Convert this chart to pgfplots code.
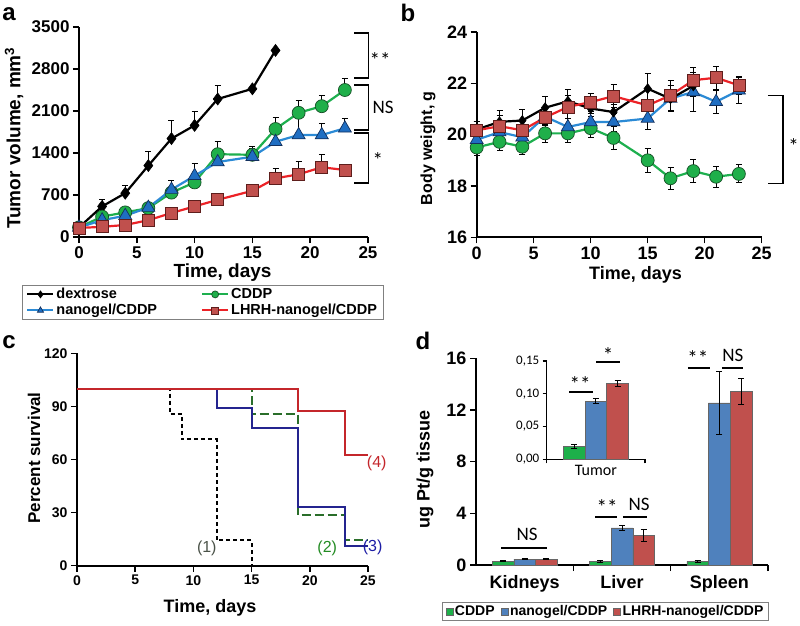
\documentclass[border=0pt]{standalone}
\usepackage{fontspec}
\setmainfont{Liberation Sans}
\newfontfamily\calib{Carlito}
\usepackage{pgfplots}
\pgfplotsset{compat=1.18}
\newcommand{\fs}[1]{\fontsize{#1}{#1}\selectfont}
\definecolor{gline}{HTML}{1DAF4E}
\definecolor{gfill}{HTML}{1FAF4A}
\definecolor{gedge}{HTML}{164F26}
\definecolor{bline}{HTML}{2B8AD5}
\definecolor{bfill}{HTML}{1F6EC2}
\definecolor{bedge}{HTML}{12305E}
\definecolor{rline}{HTML}{EC2227}
\definecolor{rfill}{HTML}{C0504D}
\definecolor{redge}{HTML}{5E1E1C}
\definecolor{cred}{HTML}{C4262B}
\definecolor{cblue}{HTML}{24248F}
\definecolor{cgreen}{HTML}{2A6E2A}
\definecolor{cgray}{HTML}{4A5248}
\definecolor{barg}{HTML}{1DB04A}
\definecolor{barb}{HTML}{4F81BD}
\definecolor{barr}{HTML}{C0504D}
\pgfplotsset{
  panel/.style={
    scale only axis, clip=false, anchor=south west,
    axis x line*=bottom, axis y line*=left,
    axis line style={line width=1.8pt,-},
    tick align=outside, major tick length=6pt,
    tick style={line width=1.5pt, black},
    /pgf/number format/assume math mode=true,
    /pgf/number format/1000 sep={},
    tick label style={font=\bfseries\fs{17}},
    label style={font=\bfseries\fs{18}},
  },
  ebar/.style={error bars/y dir=#1, error bars/y explicit,
     error bars/error bar style={line width=0.9pt, black},
     error bars/error mark options={rotate=90, mark size=3pt, line width=0.9pt, black}},
  dex/.style={black, line width=2.2pt, mark=diamond*, mark size=6pt, mark options={fill=black, draw=black, line width=0.6pt}},
  cddp/.style={gline, line width=2.2pt, mark=*, mark size=6.5pt, mark options={fill=gfill, draw=gedge, line width=0.7pt}},
  nano/.style={bline, line width=2.2pt, mark=triangle*, mark size=7.5pt, mark options={fill=bfill, draw=bedge, line width=0.7pt}},
  lhrh/.style={rline, line width=2.2pt, mark=square*, mark size=6pt, mark options={fill=rfill, draw=redge, line width=0.7pt}},
}
\begin{document}
\begin{tikzpicture}[x=1pt,y=1pt]
\useasboundingbox (0,0) rectangle (800,625);
% ---------------- panel a
\begin{axis}[panel, at={(79pt,388pt)}, width=289pt, height=210pt,
  xmin=0, xmax=25, ymin=0, ymax=3500, xtick={0,5,...,25}, ytick={0,700,...,3500},
  xlabel={Time, days}, ylabel={Tumor volume, mm\textsuperscript{3}},
  every axis x label/.style={at={(axis description cs:0.497,-0.171)}, anchor=center},
  every axis y label/.style={at={(axis description cs:-0.225,0.471)}, rotate=90, anchor=center},
  label style={font=\bfseries\fs{19}},
  legend columns=2, legend cell align=left,
  legend style={at={(axis description cs:-0.197,-0.2286)}, anchor=north west, draw=gray, line width=0.8pt,
     font=\bfseries\fs{14.5}, inner ysep=1pt, inner xsep=4pt, /tikz/every even column/.append style={column sep=42pt}},
  legend image code/.code={\draw[mark repeat=2,mark phase=2,#1] plot coordinates {(0pt,0pt) (13pt,0pt) (26pt,0pt)};},
  legend image post style={mark size=3.5pt, line width=2pt},
]
\addplot[dex, ebar=plus] table[x=x,y=y,y error=e]{
x y e
0 160 0
2 510 120
4 730 130
6 1190 230
8 1640 300
10 1860 240
12 2300 220
15 2470 0
17 3110 0
};
\addplot[cddp, ebar=plus] table[x=x,y=y,y error=e]{
x y e
0 160 0
2 340 0
4 410 0
6 482 0
8 740 0
10 910 0
12 1380 220
15 1370 100
17 1800 195
19 2070 210
21 2180 180
23 2450 190
};
\addplot[nano, ebar=plus] table[x=x,y=y,y error=e]{
x y e
0 160 0
2 280 0
4 355 0
6 490 0
8 790 150
10 1020 200
12 1250 100
15 1338 167
17 1588 0
19 1700 380
21 1700 195
23 1812 165
};
\addplot[lhrh, ebar=plus] table[x=x,y=y,y error=e]{
x y e
0 150 0
2 170 0
4 200 0
6 280 0
8 400 0
10 510 0
12 620 0
15 770 0
17 978 167
19 1045 210
21 1162 215
23 1117 0
};
\legend{dextrose, CDDP, nanogel/CDDP, LHRH-nanogel/CDDP}
\draw[line width=1.2pt] (axis cs:23.8,3400) -- (axis cs:25.05,3400) -- (axis cs:25.05,2650) -- (axis cs:23.8,2650);
\draw[line width=1.2pt] (axis cs:23.8,2533) -- (axis cs:25.05,2533) -- (axis cs:25.05,1783) -- (axis cs:23.8,1783);
\draw[line width=1.2pt] (axis cs:23.8,1733) -- (axis cs:25.05,1733) -- (axis cs:25.05,900) -- (axis cs:23.8,900);
\node[font=\calib\fs{21}] at (axis cs:26.05,2950) {**};
\node[font=\calib\fs{19}] at (axis cs:26.3,2167) {NS};
\node[font=\calib\fs{21}] at (axis cs:25.85,1280) {*};
\end{axis}
% ---------------- panel b
\begin{axis}[panel, at={(476.7pt,387.7pt)}, width=285pt, height=205.3pt,
  xmin=0, xmax=25, ymin=16, ymax=24, xtick={0,5,...,25}, ytick={16,18,...,24},
  tick label style={font=\bfseries\fs{18}},
  xlabel={Time, days}, ylabel={Body weight, g},
  every axis x label/.style={at={(axis description cs:0.557,-0.185)}, anchor=center},
  every axis y label/.style={at={(axis description cs:-0.171,0.434)}, rotate=90, anchor=center},
  label style={font=\bfseries\fs{16}},
  xlabel style={font=\bfseries\fs{18}},
]
\addplot[cddp, ebar=both] table[x=x,y=y,y error=e]{
x y e
0 19.5 0.3
2 19.72 0.35
4 19.53 0.3
6 20.05 0.35
8 20.05 0.35
10 20.25 0.35
12 19.87 0.45
15 19.0 0.47
17 18.3 0.43
19 18.58 0.45
21 18.36 0.4
23 18.47 0.35
};
\addplot[nano, ebar=both] table[x=x,y=y,y error=e]{
x y e
0 19.8 0.3
2 20.1 0.3
4 19.9 0.3
6 20.7 0.35
8 20.3 0.35
10 20.49 0.35
12 20.49 0.35
15 20.63 0.43
17 21.41 0.5
19 21.66 0.75
21 21.28 0.45
23 21.73 0.5
};
\addplot[dex, ebar=both, mark size=5pt] table[x=x,y=y,y error=e]{
x y e
0 20.2 0.3
2 20.5 0.45
4 20.55 0.45
6 21.05 0.45
8 21.3 0.45
10 21.02 0.3
12 20.88 0.3
15 21.79 0.6
17 21.4 0.5
19 21.9 0.4
};
\addplot[lhrh, ebar=both] table[x=x,y=y,y error=e]{
x y e
0 20.17 0.35
2 20.33 0.4
4 20.17 0.35
6 20.67 0.4
8 21.08 0.45
10 21.27 0.35
12 21.5 0.45
15 21.14 0.6
17 21.53 0.6
19 22.12 0.5
21 22.22 0.45
23 21.92 0.35
};
\draw[line width=1.2pt] (axis cs:25.55,21.53) -- (axis cs:26.87,21.53) -- (axis cs:26.87,18.1) -- (axis cs:25.55,18.1);
\node[font=\calib\fs{21}] at (axis cs:27.8,19.55) {*};
\end{axis}
% ---------------- panel c
\begin{axis}[panel, at={(77pt,59.3pt)}, width=291pt, height=212.4pt,
  xmin=0, xmax=25, ymin=0, ymax=120, xtick={0,5,...,25}, ytick={0,30,...,120},
  tick label style={font=\bfseries\fs{14}},
  xlabel={Time, days}, ylabel={Percent survival},
  every axis x label/.style={at={(axis description cs:0.457,-0.199)}, anchor=center},
  every axis y label/.style={at={(axis description cs:-0.148,0.507)}, rotate=90, anchor=center},
  label style={font=\bfseries\fs{17}},
  xlabel style={font=\bfseries\fs{18}},
]
\addplot[const plot, black, line width=1.8pt, dash pattern=on 4pt off 3pt] coordinates {(0,100) (8,85.7) (9,71.4) (12,14.3) (15,0)};
\addplot[const plot, cgreen, line width=2pt, dash pattern=on 9pt off 4pt] coordinates {(0,100) (15,85.7) (19,28.6) (23,14.3) (25,14.3)};
\addplot[const plot, cblue, line width=2pt] coordinates {(0,100) (12,88.9) (15,77.8) (19,33.3) (23,11.1) (25,11.1)};
\addplot[const plot, cred, line width=2.2pt] coordinates {(0,100) (19,87.5) (23,62.5) (25,62.5)};
\node[font=\fs{16}, text=cgray] at (axis cs:11.15,10) {(1)};
\node[font=\fs{16}, text=cgreen!80!green] at (axis cs:21.5,10) {(2)};
\node[font=\fs{16}, text=cblue!80!blue] at (axis cs:25.4,10.5) {(3)};
\node[font=\fs{16}, text=cred] at (axis cs:25.75,58) {(4)};
\end{axis}
% ---------------- panel d
\begin{axis}[panel, at={(476pt,60pt)}, width=292pt, height=206.7pt,
  xmin=0, xmax=3, ymin=0, ymax=16, ytick={0,4,...,16},
  xtick={1,2,3}, xticklabels={},
  extra x ticks={0.5,1.5,2.5}, extra x tick labels={Kidneys,Liver,Spleen},
  extra x tick style={major tick length=0pt, tick label style={font=\bfseries\fs{18}, yshift=-7pt}},
  tick label style={font=\bfseries\fs{18}},
  ybar=0pt, bar width=21.7pt,
  ylabel={ug Pt/g tissue},
  every axis y label/.style={at={(axis description cs:-0.175,0.46)}, rotate=90, anchor=center},
  label style={font=\bfseries\fs{18}},
  legend columns=3,
  legend style={at={(axis description cs:-0.116,-0.179)}, anchor=north west, draw=gray, line width=0.8pt,
     font=\bfseries\fs{14}, inner ysep=1pt, /tikz/every even column/.append style={column sep=4pt}},
  legend image code/.code={\draw[#1,/tikz/.cd,line width=0.4pt] (0pt,-3.5pt) rectangle (7pt,3.5pt);},
]
\addplot[fill=barg, draw=black!60, line width=0.5pt, ebar=both] table[x=x,y=y,y error=e]{
x y e
0.5 0.3 0.05
1.5 0.28 0.05
2.5 0.28 0.05
};
\addplot[fill=barb, draw=black!60, line width=0.5pt, ebar=both] table[x=x,y=y,y error=e]{
x y e
0.5 0.45 0.05
1.5 2.87 0.16
2.5 12.55 2.45
};
\addplot[fill=barr, draw=black!60, line width=0.5pt, ebar=both] table[x=x,y=y,y error=e]{
x y e
0.5 0.45 0.05
1.5 2.3 0.45
2.5 13.45 1.0
};
\legend{CDDP, nanogel/CDDP, LHRH-nanogel/CDDP}
\draw[line width=1.2pt] (axis cs:0.257,1.32) -- (axis cs:0.729,1.32);
\node[font=\calib\fs{19}] at (axis cs:0.524,2.4) {NS};
\draw[line width=1.2pt] (axis cs:1.223,3.72) -- (axis cs:1.449,3.72);
\node[font=\calib\fs{21}] at (axis cs:1.346,4.45) {**};
\draw[line width=1.2pt] (axis cs:1.51,3.72) -- (axis cs:1.757,3.72);
\node[font=\calib\fs{19}] at (axis cs:1.675,4.7) {NS};
\draw[line width=1.2pt] (axis cs:2.178,15.25) -- (axis cs:2.404,15.25);
\node[font=\calib\fs{21}] at (axis cs:2.28,16.0) {**};
\draw[line width=1.2pt] (axis cs:2.527,15.25) -- (axis cs:2.743,15.25);
\node[font=\calib\fs{19}] at (axis cs:2.64,16.25) {NS};
\end{axis}
% ---------------- inset
\begin{axis}[panel, at={(546.7pt,165.7pt)}, width=98.3pt, height=98.3pt,
  axis line style={line width=1.3pt,-}, major tick length=4pt, tick style={line width=1.1pt, black},
  xmin=0, xmax=1, ymin=0, ymax=0.15, ytick={0,0.05,0.1,0.15}, scaled y ticks=false,
  yticklabel style={font=\calib\fs{13}, /pgf/number format/fixed, /pgf/number format/fixed zerofill,
     /pgf/number format/precision=2, /pgf/number format/use comma},
  xtick={0,1}, xticklabels={},
  extra x ticks={0.5}, extra x tick labels={Tumor},
  extra x tick style={major tick length=0pt, tick label style={font=\calib\fs{16}, yshift=-2pt}},
  ybar=0pt, bar width=21.7pt,
]
\addplot[fill=barg, draw=black!60, line width=0.5pt, ebar=both] coordinates {(0.5,0.0203) +- (0,0.003)};
\addplot[fill=barb, draw=black!60, line width=0.5pt, ebar=both] coordinates {(0.5,0.089) +- (0,0.004)};
\addplot[fill=barr, draw=black!60, line width=0.5pt, ebar=both] coordinates {(0.5,0.116) +- (0,0.005)};
\draw[line width=1.2pt] (axis cs:0.227,0.1027) -- (axis cs:0.471,0.1027);
\node[font=\calib\fs{21}] at (axis cs:0.339,0.115) {**};
\draw[line width=1.2pt] (axis cs:0.502,0.1485) -- (axis cs:0.746,0.1485);
\node[font=\calib\fs{21}] at (axis cs:0.624,0.159) {*};
\end{axis}
% panel letters
\node[font=\bfseries\fs{24}] at (9,611) {a};
\node[font=\bfseries\fs{24}] at (408,612) {b};
\node[font=\bfseries\fs{24}] at (9,283) {c};
\node[font=\bfseries\fs{24}] at (423,284) {d};
\end{tikzpicture}
\end{document}
